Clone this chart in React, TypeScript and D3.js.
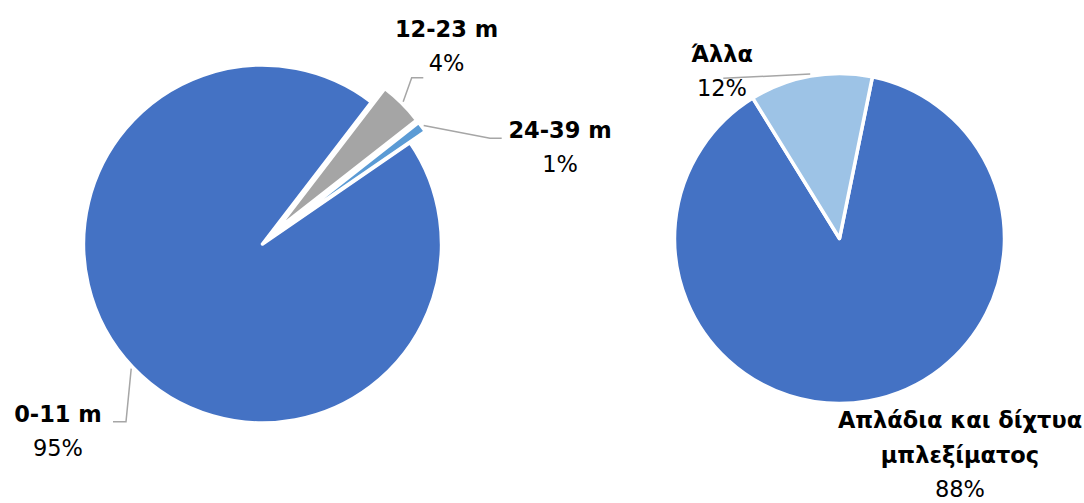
import React from 'react';
import * as d3 from 'd3';

// left pie: vessel length classes
const lengthClasses = ['0-11 m', '12-23 m', '24-39 m'];
const lengthShares = [95, 4, 1];
const lengthColors = ['#4472C4', '#A5A5A5', '#5B9BD5'];

// right pie: gear type
const gearTypes = ['Απλάδια και δίχτυα μπλεξίματος', 'Άλλα'];
const gearShares = [88, 12];
const gearColors = ['#4472C4', '#9DC3E6'];

const W = 1084;
const H = 503;
const deg = Math.PI / 180;
const FONT = '"DejaVu Sans", Verdana, sans-serif';

type LabelCfg = {
  lines: string[];      // bold name lines
  x: number;
  y: number;            // baseline of first line
  leader?: [number, number][]; // points after arc anchor
};

type PieCfg = {
  cx: number;
  cy: number;
  r: number;
  start: number;
  names: string[];
  values: number[];
  colors: string[];
  explode: number[];
  labels: LabelCfg[];
};

const pies: PieCfg[] = [
  {
    cx: 262.5, cy: 244, r: 179, start: 55.5 * deg,
    names: lengthClasses, values: lengthShares, colors: lengthColors,
    explode: [0, 19, 19],
    labels: [
      { lines: ['0-11 m'], x: 58, y: 421.7, leader: [[126, 421.7], [113, 421.7]] },
      { lines: ['12-23 m'], x: 446.5, y: 36.7, leader: [[411.7, 77.7], [423.3, 77.7]] },
      { lines: ['24-39 m'], x: 560, y: 137.7, leader: [[490, 138.3], [501.7, 138.3]] },
    ],
  },
  {
    cx: 839.5, cy: 238.5, r: 165, start: 11.5 * deg,
    names: gearTypes, values: gearShares, colors: gearColors,
    explode: [0, 0],
    labels: [
      { lines: ['Απλάδια και δίχτυα', 'μπλεξίματος'], x: 960, y: 428.3 },
      { lines: ['Άλλα'], x: 722, y: 61.7, leader: [[723.3, 78.3]] },
    ],
  },
];

const LINE = 34.5;

const Pie: React.FC<{ cfg: PieCfg }> = ({ cfg }) => {
  const arcs = d3.pie<number>()
    .sort(null)
    .startAngle(cfg.start)
    .endAngle(cfg.start + 2 * Math.PI)(cfg.values);
  const arc = d3.arc<d3.PieArcDatum<number>>().innerRadius(0).outerRadius(cfg.r);

  return (
    <g>
      {arcs.map((a, i) => {
        const mid = (a.startAngle + a.endAngle) / 2;
        const off = cfg.explode[i];
        return (
          <path
            key={cfg.names[i]}
            d={arc(a) || ''}
            transform={`translate(${cfg.cx + off * Math.sin(mid)},${cfg.cy - off * Math.cos(mid)})`}
            fill={cfg.colors[i]}
            stroke="#fff"
            strokeWidth={3.5}
            strokeLinejoin="round"
          />
        );
      })}
      {arcs.map((a, i) => {
        const lab = cfg.labels[i];
        if (!lab.leader) return null;
        const mid = (a.startAngle + a.endAngle) / 2;
        const rr = cfg.r + cfg.explode[i] + 2;
        const p0: [number, number] = [cfg.cx + rr * Math.sin(mid), cfg.cy - rr * Math.cos(mid)];
        return (
          <path
            key={'l' + i}
            d={d3.line()([p0, ...lab.leader]) || ''}
            fill="none"
            stroke="#A6A6A6"
            strokeWidth={1.5}
          />
        );
      })}
      {arcs.map((a, i) => {
        const lab = cfg.labels[i];
        const pct = `${a.value}%`;
        return (
          <text key={'t' + i} textAnchor="middle" fontFamily={FONT} fill="#000">
            {lab.lines.map((ln, j) => (
              <tspan key={j} x={lab.x} y={lab.y + j * LINE} fontWeight="bold" fontSize={22.5}>{ln}</tspan>
            ))}
            <tspan x={lab.x} y={lab.y + lab.lines.length * LINE} fontSize={22.5}>{pct}</tspan>
          </text>
        );
      })}
    </g>
  );
};

export default function App() {
  return (
    <svg width={W} height={H} style={{ position: 'absolute', left: 0, top: 0, background: '#fff' }}>
      {pies.map((p, i) => <Pie key={i} cfg={p} />)}
    </svg>
  );
}
